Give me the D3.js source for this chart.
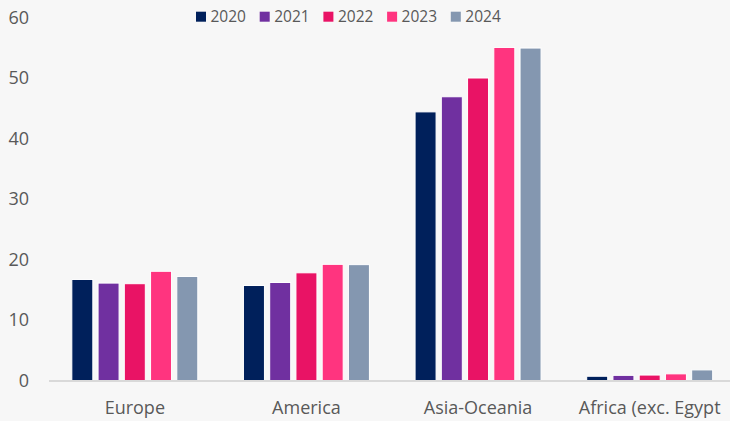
<!DOCTYPE html>
<html>
<head>
<meta charset="utf-8">
<script src="https://cdn.jsdelivr.net/npm/d3@7"></script>
<style>
  html, body { margin: 0; padding: 0; background: #f7f7f7; }
  svg { display: block; font-family: "Open Sans", sans-serif; }
</style>
</head>
<body>
<svg id="chart" width="730" height="421"></svg>
<script>
// Regions along the x axis
const regions = ["Europe", "America", "Asia-Oceania", "Africa (exc. Egypt"];
// Years shown as grouped bars
const years = ["2020", "2021", "2022", "2023", "2024"];
// Values per year, one entry per region
const values2020 = [16.7, 15.7, 44.4, 0.7];
const values2021 = [16.1, 16.2, 46.9, 0.85];
const values2022 = [16.0, 17.8, 50.0, 0.9];
const values2023 = [18.05, 19.2, 55.05, 1.1];
const values2024 = [17.2, 19.15, 54.95, 1.75];
const yTicks = [0, 10, 20, 30, 40, 50, 60];
const colors = ["#00205b", "#7030a0", "#e91365", "#ff347f", "#8497b0"];

const series = [values2020, values2021, values2022, values2023, values2024];
const rows = regions.map((r, i) => ({
  region: r,
  bars: years.map((y, j) => ({ year: y, value: series[j][i], color: colors[j] }))
}));

const svg = d3.select("#chart");
const textColor = "#595959";

const x0 = d3.scaleBand().domain(regions).range([49, 735.5])
  .paddingInner(0.266).paddingOuter(0.133);
const x1 = d3.scaleBand().domain(years).range([0, x0.bandwidth()])
  .paddingInner(0.2).paddingOuter(0);
const y = d3.scaleLinear().domain([0, 60]).range([380.5, 17.5]);

// Bars
const groups = svg.append("g").selectAll("g").data(rows).join("g")
  .attr("transform", d => `translate(${x0(d.region)},0)`);
groups.selectAll("rect").data(d => d.bars).join("rect")
  .attr("x", d => x1(d.year))
  .attr("y", d => y(d.value))
  .attr("width", x1.bandwidth())
  .attr("height", d => y(0) - y(d.value))
  .attr("fill", d => d.color)
  .attr("stroke", "#ffffff")
  .attr("stroke-width", 1);

// Baseline
svg.append("line")
  .attr("x1", 49).attr("x2", 730)
  .attr("y1", y(0) + 0.5).attr("y2", y(0) + 0.5)
  .attr("stroke", "#d9d9d9").attr("stroke-width", 2);

// Y axis labels (no axis line, no ticks)
const yAxis = d3.axisLeft(y).tickValues(yTicks).tickSize(0).tickPadding(0);
const yg = svg.append("g").attr("transform", "translate(29,0)").call(yAxis);
yg.select(".domain").remove();
yg.selectAll("text")
  .attr("fill", textColor)
  .attr("font-size", 18)
  .attr("font-family", "'Open Sans', sans-serif");

// X axis category labels
const xAxis = d3.axisBottom(x0).tickSize(0).tickPadding(0);
const xg = svg.append("g").attr("transform", `translate(0,${y(0)})`).call(xAxis);
xg.select(".domain").remove();
xg.selectAll("text")
  .attr("dy", null)
  .attr("y", 33)
  .attr("fill", textColor)
  .attr("font-size", 18)
  .attr("font-family", "'Open Sans', sans-serif");

// Legend
const legend = svg.append("g").attr("transform", "translate(196,0)");
const items = legend.selectAll("g").data(years).join("g")
  .attr("transform", (d, i) => `translate(${i * 63.7},0)`);
items.append("rect")
  .attr("x", 0).attr("y", 11.7).attr("width", 10).attr("height", 10)
  .attr("fill", (d, i) => colors[i]);
items.append("text")
  .attr("x", 14.5).attr("y", 22.3)
  .attr("fill", textColor)
  .attr("font-size", 15.5)
  .text(d => d);
</script>
</body>
</html>
